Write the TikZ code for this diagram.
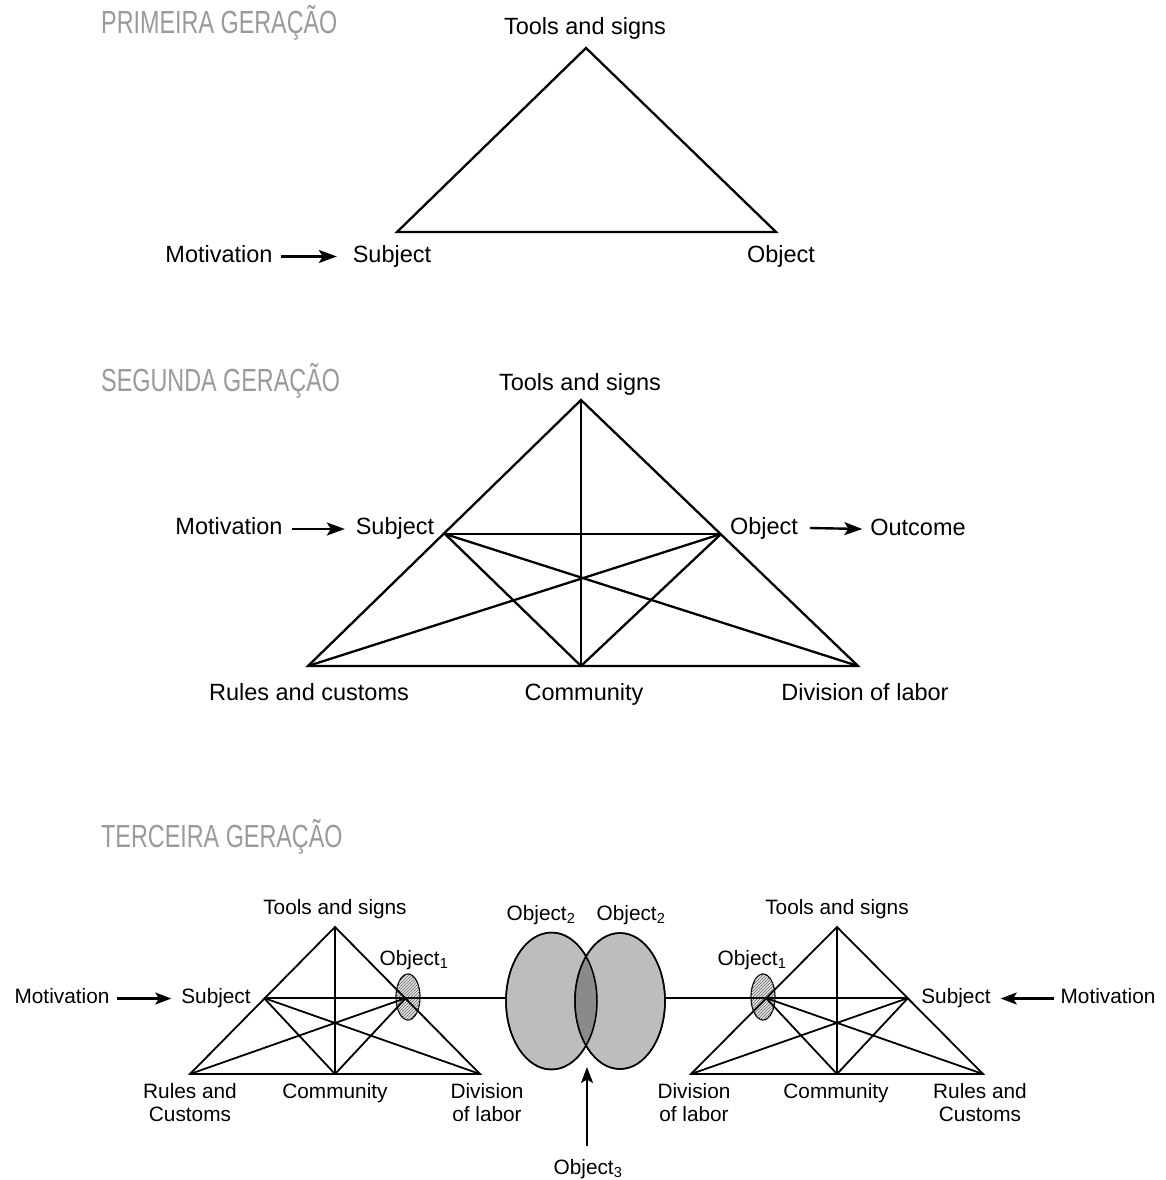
\documentclass[tikz,border=0pt]{standalone}
\usepackage{fontspec}
\setmainfont{Liberation Sans}
\newfontfamily\headfont[FakeStretch=0.73]{Liberation Sans}
\usetikzlibrary{arrows.meta,shapes.geometric,patterns}
\definecolor{headgray}{HTML}{9A9A9A}
\definecolor{lightfill}{HTML}{BDBDBD}
\definecolor{darkfill}{HTML}{8A8A8A}
\begin{document}
\begin{tikzpicture}[x=1pt,y=-1pt,
  lab/.style={font=\fontsize{23.5}{26}\selectfont, inner sep=0pt, outer sep=0pt, text height=16.8pt, text depth=0pt},
  slab/.style={font=\fontsize{20.8}{23}\selectfont, inner sep=0pt, outer sep=0pt, text height=14.9pt, text depth=0pt},
  mlab/.style={font=\fontsize{20.8}{23}\selectfont, inner sep=0pt, outer sep=0pt, align=center},
  head/.style={font=\headfont\fontsize{32}{34}\selectfont, text=headgray, inner sep=0pt, text height=22.9pt, text depth=0pt, anchor=west},
  edge1/.style={line width=2.3pt, line join=miter},
  edge3/.style={line width=1.8pt, line join=miter},
  arr/.style={line width=2.4pt, -{Stealth[length=18pt,width=13pt,inset=4pt]}},
  sarr/.style={line width=2.1pt, -{Stealth[length=16pt,width=12pt,inset=3.5pt]}},
  blob/.style={ellipse, draw, line width=1.5pt, inner sep=0pt, outer sep=0pt, fill=lightfill},
  hatch/.style={ellipse, draw, line width=1.2pt, inner sep=0pt, outer sep=0pt, fill=gray!20, postaction={pattern=north east lines, pattern color=black!60}, minimum width=24pt, minimum height=46pt}
]
\useasboundingbox (0,0) rectangle (1166,1180);

% ---------------- Headings ----------------
\node[head] (h1) at (101,22.5) {PRIMEIRA GERAÇÃO};
\node[head] (h2) at (101,380) {SEGUNDA GERAÇÃO};
\node[head] (h3) at (101,836) {TERCEIRA GERAÇÃO};

% ---------------- First generation ----------------
\coordinate (A1) at (586,48);
\coordinate (S1) at (397,232);
\coordinate (O1) at (776,232);
\draw[edge1] (A1) -- (S1) -- (O1) -- cycle;
\node[lab] (ts1) at (585,26) {Tools and signs};
\node[lab] (mot1) at (219,254) {Motivation};
\node[lab] (sub1) at (392,254) {Subject};
\node[lab] (obj1) at (781,254) {Object};
\draw[arr] ([xshift=8pt,yshift=-2.5pt]mot1.east) -- ([xshift=-16pt,yshift=-2.5pt]sub1.west);

% ---------------- Second generation ----------------
\coordinate (A2) at (581,400);
\coordinate (S2) at (445,534);
\coordinate (O2) at (721,534);
\coordinate (L2) at (308,666);
\coordinate (C2) at (581,666);
\coordinate (R2) at (858,666);
\draw[edge1] (A2) -- (L2) -- (R2) -- cycle;
\draw[edge1] (A2) -- (C2);
\draw[edge1] (S2) -- (O2);
\draw[edge1] (S2) -- (C2);
\draw[edge1] (S2) -- (R2);
\draw[edge1] (O2) -- (C2);
\draw[edge1] (O2) -- (L2);
\node[lab] (ts2) at (580,382) {Tools and signs};
\node[lab] (mot2) at (229,526) {Motivation};
\node[lab] (sub2) at (395,526) {Subject};
\node[lab] (obj2) at (764,526) {Object};
\node[lab] (out2) at (918,527) {Outcome};
\node[lab] (rc2) at (309,692) {Rules and customs};
\node[lab] (com2) at (584,692) {Community};
\node[lab] (dl2) at (865,692) {Division of labor};
\draw[arr] ([xshift=9pt,yshift=-3pt]mot2.east) -- ([xshift=-11pt,yshift=-3pt]sub2.west);
\draw[arr] ([xshift=12pt,yshift=-2pt]obj2.east) -- ([xshift=-8pt,yshift=-2pt]out2.west);

% ---------------- Third generation ----------------
% Object2 ellipses
\node[blob, minimum width=91pt, minimum height=137pt] (o2a) at (551.5,1001) {};
\node[blob, minimum width=90pt, minimum height=136pt] (o2b) at (620,1001) {};
\begin{scope}
  \clip (551.5,1001) ellipse (45.5 and 68.5);
  \fill[darkfill] (620,1001) ellipse (45 and 68);
\end{scope}
\draw[line width=1.5pt] (551.5,1001) ellipse (45.5 and 68.5);
\draw[line width=1.5pt] (620,1001) ellipse (45 and 68);

% Object1 ellipses
\node[hatch] (e1a) at (408,997) {};
\node[hatch] (e1b) at (763,997) {};

% left triangle
\coordinate (A3) at (335,927);
\coordinate (S3) at (264,998);
\coordinate (O3) at (406,998);
\coordinate (L3) at (190,1074);
\coordinate (C3) at (335,1074);
\coordinate (R3) at (480,1074);
\draw[edge3] (A3) -- (L3) -- (R3) -- cycle;
\draw[edge3] (A3) -- (C3);
\draw[edge3] (S3) -- (O3);
\draw[edge3] (S3) -- (C3);
\draw[edge3] (S3) -- (R3);
\draw[edge3] (O3) -- (C3);
\draw[edge3] (O3) -- (L3);
\draw[edge3] (O3) -- (O3 -| o2a.west);

% right triangle
\coordinate (A4) at (837,927);
\coordinate (O4) at (766,998);
\coordinate (S4) at (908,998);
\coordinate (L4) at (691,1074);
\coordinate (C4) at (837,1074);
\coordinate (R4) at (983,1074);
\draw[edge3] (A4) -- (L4) -- (R4) -- cycle;
\draw[edge3] (A4) -- (C4);
\draw[edge3] (S4) -- (O4);
\draw[edge3] (S4) -- (C4);
\draw[edge3] (S4) -- (L4);
\draw[edge3] (O4) -- (C4);
\draw[edge3] (O4) -- (R4);
\draw[edge3] (O4 -| o2b.east) -- (O4);

% labels
\node[slab] (ts3) at (335,907) {Tools and signs};
\node[slab] (mot3) at (62,996.5) {Motivation};
\node[slab] (sub3) at (216,996.5) {Subject};
\node[slab] (ob1a) at (414,958) {Object\textsubscript{1}};
\node[mlab] (rc3) at (190,1102.5) {Rules and\\Customs};
\node[slab] (com3) at (335,1091) {Community};
\node[mlab] (dl3) at (487,1102.5) {Division\\of labor};
\node[slab] (o2al) at (541,913) {Object\textsubscript{2}};
\node[slab] (o2bl) at (631,913) {Object\textsubscript{2}};
\node[slab] (ob3) at (588,1167) {Object\textsubscript{3}};
\node[slab] (ts4) at (837,907) {Tools and signs};
\node[slab] (ob1b) at (752,958) {Object\textsubscript{1}};
\node[slab] (sub4) at (956,996.5) {Subject};
\node[slab] (mot4) at (1108,996.5) {Motivation};
\node[mlab] (dl4) at (694,1102.5) {Division\\of labor};
\node[slab] (com4) at (836,1091) {Community};
\node[mlab] (rc4) at (980,1102.5) {Rules and\\Customs};

\coordinate (o3tip) at (587,1067);
\draw[sarr] ([xshift=8pt,yshift=-2pt]mot3.east) -- ([xshift=-10pt,yshift=-2pt]sub3.west);
\draw[sarr] ([xshift=-7pt,yshift=-2pt]mot4.west) -- ([xshift=10pt,yshift=-2pt]sub4.east);
\draw[sarr] ([yshift=14pt]ob3.north -| o3tip) -- (o3tip);
\end{tikzpicture}
\end{document}
